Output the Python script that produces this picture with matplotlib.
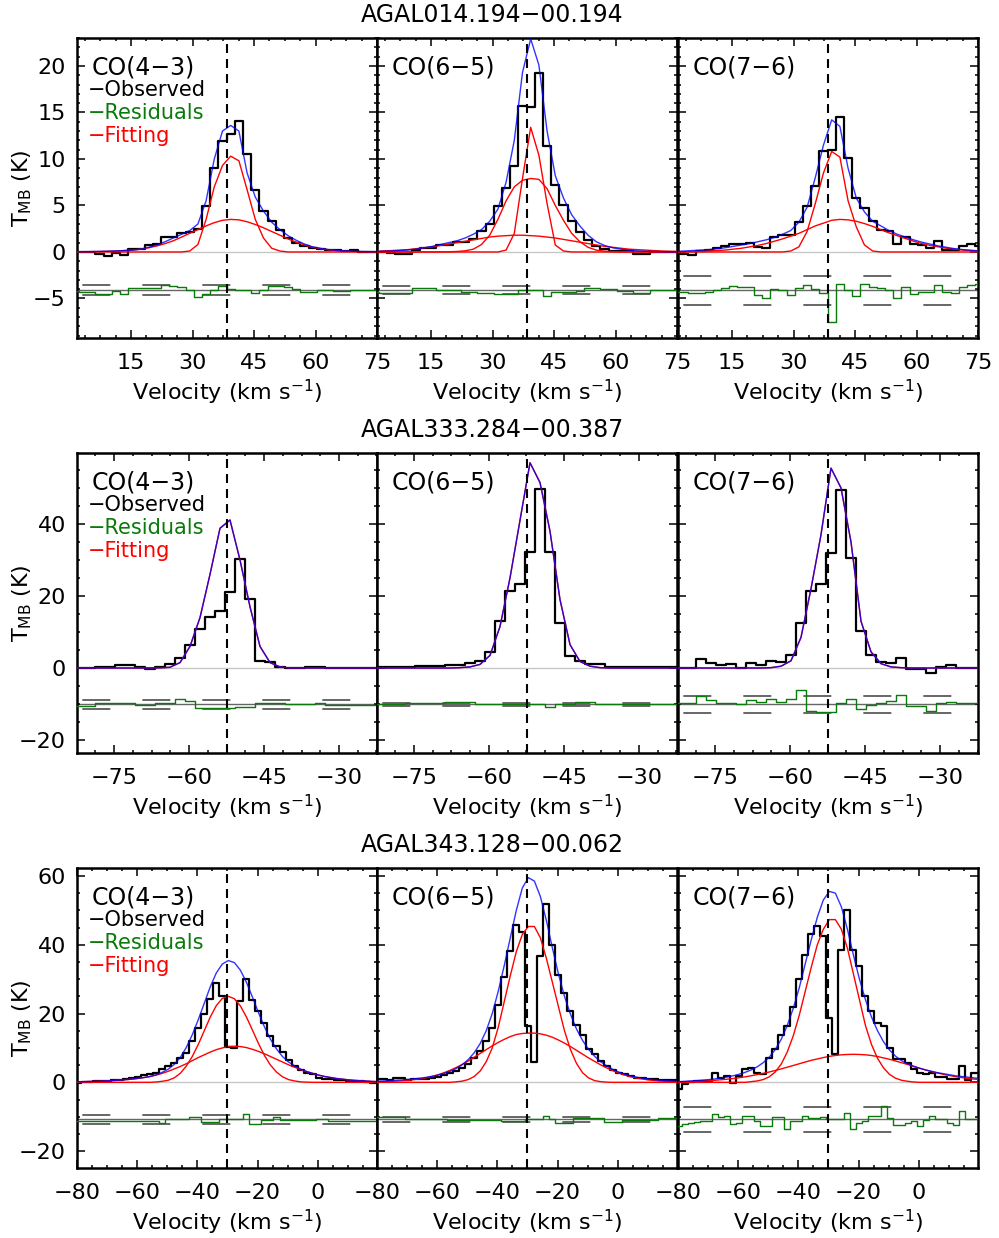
import numpy as np
import matplotlib
matplotlib.use("Agg")
import matplotlib.pyplot as plt
from matplotlib.ticker import MultipleLocator

plt.rcParams['font.family'] = ['DejaVu Sans']
plt.rcParams['mathtext.fontset'] = 'dejavusans'

# ---------------------------------------------------------------- data
SOURCES = ['AGAL014.194\u221200.194', 'AGAL333.284\u221200.387', 'AGAL343.128\u221200.062']
LINES = ['CO(4\u22123)', 'CO(6\u22125)', 'CO(7\u22126)']
CHAN_WIDTH = 2.0                      # km/s
V_FIRST = [1.3, -83.8, -81.7]         # first channel centre, per source
N_CHAN = [38, 32, 52]
V_SYS = [38.5, -52.4, -30.0]          # systemic velocity (dashed line)
RES_OFFSET = [-4.1, -10.1, -10.8]     # residuals are shifted down by this
NOISE = [[0.5, 0.4, 1.55], [1.15, 0.4, 2.3], [1.3, 0.8, 3.6]]

# AGAL014.194-00.194
obs_a14_43 = [0.0, 0.0, 0.0, -0.2, -0.4, -0.1, -0.3, 0.3, 0.3, 0.7, 0.9, 1.6, 1.6, 2.0, 2.15, 2.5,
              4.9, 9.0, 11.9, 12.7, 14.1, 10.5, 6.7, 4.4, 3.3, 2.4, 1.5, 1.0, 0.6, 0.4, 0.3, 0.2,
              0.2, 0.05, 0.2, 0.0, 0.0, 0.0]
fit_a14_43 = [0.02, 0.03, 0.04, 0.06, 0.08, 0.11, 0.15, 0.2, 0.3, 0.5, 0.75, 1.1, 1.5, 1.9, 2.3, 3.0,
              5.5, 10.0, 13.0, 13.6, 13.0, 8.5, 5.9, 4.4, 3.2, 2.4, 1.75, 1.25, 0.85, 0.55, 0.38,
              0.25, 0.17, 0.11, 0.08, 0.05, 0.04, 0.03]
comp_a14_43 = [
    [0, 0, 0, 0, 0, 0, 0, 0, 0, 0, 0, 0, 0, 0, 0.1, 0.8, 3.5, 7.0, 9.3, 10.3, 9.8, 6.7, 3.5, 1.5,
     0.4, 0.1, 0, 0, 0, 0, 0, 0, 0, 0, 0, 0, 0, 0],
    [0.0, 0.02, 0.03, 0.05, 0.07, 0.1, 0.15, 0.2, 0.3, 0.45, 0.65, 0.9, 1.2, 1.6, 2.0, 2.4, 2.8,
     3.15, 3.4, 3.5, 3.45, 3.25, 2.95, 2.6, 2.2, 1.8, 1.4, 1.05, 0.75, 0.5, 0.35, 0.22, 0.14, 0.09,
     0.05, 0.03, 0.02, 0.01]]
res_a14_43 = [-0.1, -0.2, -0.2, -0.4, -0.4, -0.1, -0.4, 0.2, 0.2, 0.2, 0.2, 0.5, 0.45, 0.35, 0.0,
              -0.7, -0.4, 0.0, 0.45, 0.1, 0.0, 0.0, -0.3, 0.0, 0.4, 0.4, 0.3, 0.1, -0.25, -0.25,
              0.0, 0.0, -0.1, -0.1, 0.05, 0.05, 0.05, 0.05]

obs_a14_65 = [0.0, 0.0, -0.1, -0.2, -0.2, 0.2, 0.4, 0.4, 0.75, 0.75, 1.1, 1.1, 1.4, 2.2, 3.0, 4.9,
              6.9, 9.2, 15.7, 15.6, 19.2, 11.4, 7.2, 5.0, 3.3, 2.1, 1.3, 0.6, 0.3, 0.1, 0.1, 0.1,
              -0.2, -0.2, 0.0, 0.0, 0.0, 0.0]
fit_a14_65 = [0.05, 0.08, 0.1, 0.15, 0.2, 0.3, 0.45, 0.6, 0.8, 1.0, 1.2, 1.5, 1.9, 2.4, 3.3, 4.6,
              7.5, 12.0, 19.3, 22.9, 20.1, 13.0, 8.2, 5.8, 4.0, 2.8, 1.8, 1.1, 0.7, 0.45, 0.3, 0.2,
              0.12, 0.08, 0.05, 0.03, 0.02, 0.01]
comp_a14_65 = [
    [0, 0, 0, 0, 0, 0, 0, 0, 0, 0, 0, 0, 0, 0, 0, 0, 0.2, 2.0, 7.9, 13.4, 10.4, 5.2, 0.75, 0.1,
     0, 0, 0, 0, 0, 0, 0, 0, 0, 0, 0, 0, 0, 0],
    [0, 0, 0, 0, 0, 0, 0, 0, 0, 0.02, 0.05, 0.12, 0.3, 0.8, 1.8, 3.5, 5.5, 7.0, 7.7, 7.9, 7.8,
     6.8, 5.0, 3.4, 2.0, 1.1, 0.5, 0.2, 0.08, 0.03, 0, 0, 0, 0, 0, 0, 0, 0],
    [0.05, 0.1, 0.15, 0.2, 0.25, 0.35, 0.45, 0.55, 0.7, 0.85, 1.0, 1.15, 1.3, 1.45, 1.6, 1.7,
     1.75, 1.8, 1.8, 1.75, 1.7, 1.6, 1.5, 1.35, 1.2, 1.05, 0.9, 0.75, 0.6, 0.5, 0.4, 0.3, 0.25,
     0.2, 0.15, 0.1, 0.07, 0.05]]
res_a14_65 = [-0.2, -0.35, -0.35, -0.35, -0.35, 0.2, 0.2, 0.2, 0.0, 0.0, 0.0, -0.2, -0.2, -0.35,
              -0.35, -0.4, -0.4, -0.4, 0.0, 0.0, 0.0, -0.6, -0.25, -0.25, -0.25, -0.1, 0.25, 0.25,
              0.1, 0.1, -0.15, -0.15, -0.35, -0.35, 0.0, 0.0, 0.0, 0.0]

obs_a14_76 = [-0.1, -0.2, -0.3, 0.05, 0.2, 0.4, 0.6, 0.9, 0.9, 1.0, 0.5, 0.4, 1.65, 1.8, 1.8, 3.2,
              4.9, 7.1, 10.9, 11.0, 14.5, 10.1, 5.8, 4.7, 3.3, 2.4, 2.2, 0.9, 1.65, 0.9, 0.75, 0.4,
              1.2, 0.2, 0.2, 0.65, 0.85, 0.6]
fit_a14_76 = [0.05, 0.1, 0.15, 0.2, 0.25, 0.35, 0.45, 0.6, 0.75, 0.9, 1.1, 1.3, 1.55, 1.9, 2.3, 3.2,
              4.8, 8.0, 11.5, 14.2, 13.5, 9.0, 5.8, 4.3, 3.3, 2.8, 2.3, 1.9, 1.6, 1.3, 1.05, 0.85,
              0.65, 0.5, 0.35, 0.25, 0.18, 0.12]
comp_a14_76 = [
    [0, 0, 0, 0, 0, 0, 0, 0, 0, 0, 0, 0, 0, 0, 0.1, 0.55, 2.2, 5.2, 8.5, 10.8, 10.2, 5.5, 2.7, 0.75,
     0.1, 0, 0, 0, 0, 0, 0, 0, 0, 0, 0, 0, 0, 0],
    [0.0, 0.02, 0.04, 0.07, 0.1, 0.15, 0.2, 0.3, 0.4, 0.55, 0.7, 0.9, 1.15, 1.4, 1.7, 2.0, 2.4,
     2.8, 3.1, 3.4, 3.5, 3.45, 3.3, 3.05, 2.75, 2.4, 2.05, 1.75, 1.45, 1.15, 0.9, 0.7, 0.55, 0.4,
     0.3, 0.2, 0.15, 0.1]]
res_a14_76 = [-0.2, -0.2, -0.35, -0.35, -0.2, 0.0, 0.2, 0.45, 0.3, 0.3, -0.5, -0.9, 0.1, 0.0, -0.5,
              0.25, 0.55, 0.1, -0.35, -3.4, 0.65, 0.0, -0.6, 0.7, 0.3, 0.2, 0.0, -0.9, 0.35, -0.45,
              -0.2, -0.2, 0.55, -0.2, -0.35, 0.35, 0.55, 0.7]

# AGAL333.284-00.387 (single-component fits: component equals the total)
obs_a333_43 = [0, 0, 0, 0.4, 0.4, 0.7, 0.7, 0.2, -0.4, 0.3, 1.0, 2.7, 6.5, 10.8, 14.3, 15.8, 21.1,
               30.3, 19.1, 2.0, 1.8, 0.4, 0, 0, 0.4, 0.4, 0, 0, 0, 0, 0, 0]
fit_a333_43 = [0, 0, 0, 0, 0, 0, 0, 0, 0.02, 0.05, 0.2, 1.5, 6.0, 14.0, 26.0, 38.8, 41.1, 30.0,
               17.0, 6.0, 1.5, 0.3, 0, 0, 0, 0, 0, 0, 0, 0, 0, 0]
comp_a333_43 = [fit_a333_43]
res_a333_43 = [-0.4, -0.4, -0.4, 0.3, 0.3, 0.3, 0.3, -0.2, -0.2, 0.5, 0.5, 1.4, 1.0, -1.1, -1.1,
               -1.1, -1.1, -0.6, -0.6, 0.3, 0.3, 0.3, 0.0, 0.0, 0.0, 0.5, -0.1, -0.1, -0.1, -0.1,
               -0.1, -0.1]

obs_a333_65 = [0.2, 0.2, 0.2, 0.3, 0.4, 0.5, 0.5, 0.6, 0.8, 0.8, 1.3, 2.0, 4.5, 13.1, 21.4, 23.3,
               32.3, 49.7, 32.3, 12.4, 3.4, 2.0, 1.1, 1.1, 0.2, 0.2, 0.2, 0.2, 0.2, 0.2, 0.2, 0.2]
fit_a333_65 = [0, 0, 0, 0, 0, 0, 0, 0, 0, 0.1, 0.3, 1.0, 3.5, 11.5, 25.0, 41.0, 57.0, 51.5, 38.0,
               19.0, 6.5, 1.8, 0.5, 0.1, 0, 0, 0, 0, 0, 0, 0, 0]
comp_a333_65 = [fit_a333_65]
res_a333_65 = [0, 0, 0, 0, 0.3, 0.3, 0.3, 0.3, 0.65, 0.65, 0.65, 0, 0, 0, 0, 0, 0, 0, -0.6, 0, 0,
               0.7, 0.7, 0.2, 0.2, 0.2, 0.2, 0.2, 0.2, 0.2, 0, 0]

obs_a333_76 = [0.1, 0.1, 0.1, 2.4, 1.5, 0.8, 1.1, 0.1, 1.3, 0.9, 2.0, 1.8, 3.5, 12.4, 21.4, 23.3,
               31.9, 49.4, 30.5, 10.4, 3.5, 1.8, 1.5, 2.7, -0.4, -0.4, -1.5, 0.4, 0.9, 0.1, 0.1, 0.1]
fit_a333_76 = [0, 0, 0, 0, 0, 0, 0, 0, 0, 0, 0.1, 0.5, 2.0, 8.5, 22.0, 37.0, 55.5, 50.0, 35.0,
               13.0, 4.5, 1.2, 0.3, 0.1, 0, 0, 0, 0, 0, 0, 0, 0]
comp_a333_76 = [fit_a333_76]
res_a333_76 = [0.3, 0.3, 0.3, 2.3, 1.2, 0.5, 0.5, 0.0, 1.2, 0.7, 1.6, 0.7, 1.4, 3.9, -1.8, -2.2,
               -2.2, 0.3, 1.4, -1.4, -0.2, 0.3, 0.9, 2.6, -0.4, -0.4, -1.7, 0.3, 0.7, 0.3, 0.3, 0.3]

# AGAL343.128-00.062
obs_a343_43 = [-0.3, -0.3, 0.1, 0.2, 0.3, 0.4, 0.5, 0.6, 0.75, 0.9, 1.15, 1.5, 2.0, 2.3, 2.8, 3.8,
               4.7, 5.7, 7.1, 8.6, 12.0, 15.8, 19.9, 24.1, 28.9, 25.0, 10.2, 9.9, 23.5, 30.0, 24.0,
               20.7, 17.3, 13.4, 10.5, 8.8, 6.4, 4.7, 3.5, 2.8, 2.3, 1.35, 0.9, 0.9, 0.7, 0.7, 0.4,
               0.4, 0.4, 0.2, -0.3, -0.3]
fit_a343_43 = [0.1, 0.15, 0.2, 0.25, 0.3, 0.35, 0.45, 0.55, 0.65, 0.8, 0.95, 1.15, 1.4, 1.7, 2.2,
               2.9, 3.8, 5.2, 7.2, 10.1, 13.8, 18.2, 23.0, 27.8, 31.8, 34.4, 35.4, 34.8, 32.6, 29.1,
               24.8, 20.3, 16.1, 12.5, 9.7, 7.5, 5.9, 4.8, 3.85, 3.15, 2.6, 2.1, 1.7, 1.4, 1.1, 0.9,
               0.7, 0.55, 0.45, 0.35, 0.25, 0.2]
comp_a343_43 = [
    [0, 0, 0, 0, 0, 0, 0, 0, 0, 0, 0, 0, 0, 0, 0.1, 0.3, 0.6, 1.3, 2.6, 4.7, 7.5, 11.0, 15.0, 19.0,
     22.3, 24.4, 25.0, 24.3, 22.2, 19.0, 15.2, 11.3, 7.8, 5.0, 3.0, 1.6, 0.8, 0.4, 0.15, 0.05,
     0, 0, 0, 0, 0, 0, 0, 0, 0, 0, 0, 0],
    [0.1, 0.15, 0.2, 0.25, 0.3, 0.35, 0.45, 0.55, 0.65, 0.8, 0.95, 1.15, 1.4, 1.7, 2.1, 2.6, 3.2,
     3.9, 4.6, 5.4, 6.3, 7.2, 8.0, 8.8, 9.5, 10.0, 10.4, 10.5, 10.4, 10.1, 9.6, 9.0, 8.3, 7.5,
     6.7, 5.9, 5.1, 4.4, 3.7, 3.1, 2.6, 2.1, 1.7, 1.4, 1.1, 0.9, 0.7, 0.55, 0.45, 0.35, 0.25, 0.2]]
res_a343_43 = [-0.4, -0.4, -0.3, -0.3, -0.3, -0.3, -0.3, -0.3, -0.3, -0.3, -0.3, -0.3, -0.3, -0.3,
               -0.3, -1.0, 0.0, 0.0, 0.0, 0.0, 0.7, 0.7, -0.8, -0.8, -0.8, 0.0, 0.0, 0.0, 0.0, 1.6,
               -1.4, -1.4, -0.2, -0.2, 0.7, -0.2, -0.2, -0.2, -0.2, -0.2, -0.2, 0.1, 0.1, -0.4,
               -0.4, -0.4, -0.4, -0.4, -0.4, -0.4, -0.4, -0.4]

obs_a343_65 = [0.9, 0.9, 0.9, 0.7, 1.2, 1.2, 0.8, 0.9, 0.9, 1.0, 1.2, 1.5, 2.0, 2.6, 3.3, 4.3, 5.2,
               7.0, 9.1, 12.0, 15.8, 22.6, 30.6, 38.1, 45.8, 43.6, 16.3, 5.9, 36.6, 51.9, 40.0,
               31.3, 26.0, 20.7, 16.8, 13.9, 9.6, 8.1, 6.2, 4.7, 3.6, 2.8, 2.3, 1.8, 1.35, 1.35,
               0.9, 0.9, 0.7, 0.7, 0.7, 0.5]
fit_a343_65 = [0.3, 0.35, 0.4, 0.5, 0.6, 0.7, 0.85, 1.0, 1.2, 1.45, 1.75, 2.1, 2.6, 3.2, 4.0, 5.1,
               6.6, 8.6, 11.3, 15.0, 20.0, 26.5, 34.0, 42.0, 50.0, 56.5, 59.5, 58.5, 54.0, 47.0,
               39.0, 31.5, 25.0, 19.8, 15.5, 12.2, 9.6, 7.6, 6.0, 4.8, 3.8, 3.0, 2.4, 1.9, 1.5,
               1.2, 0.95, 0.75, 0.6, 0.5, 0.4, 0.3]
comp_a343_65 = [
    [0, 0, 0, 0, 0, 0, 0, 0, 0, 0, 0, 0, 0, 0, 0.15, 0.35, 0.8, 1.7, 3.3, 6.0, 10.0, 16.0, 23.5,
     31.0, 38.0, 43.0, 45.3, 45.3, 42.0, 36.0, 29.0, 22.0, 15.0, 9.5, 5.5, 2.8, 1.3, 0.5, 0.2,
     0.05, 0, 0, 0, 0, 0, 0, 0, 0, 0, 0, 0, 0],
    [0.1, 0.15, 0.2, 0.25, 0.35, 0.45, 0.6, 0.8, 1.0, 1.3, 1.7, 2.2, 2.8, 3.5, 4.3, 5.2, 6.2, 7.3,
     8.4, 9.5, 10.6, 11.6, 12.5, 13.3, 13.9, 14.2, 14.3, 14.3, 14.1, 13.7, 13.1, 12.3, 11.4, 10.4,
     9.3, 8.2, 7.1, 6.1, 5.1, 4.2, 3.4, 2.7, 2.1, 1.6, 1.25, 0.95, 0.7, 0.5, 0.37, 0.27, 0.2,
     0.15]]
res_a343_65 = [0.6, 0.6, 0.6, 0.6, 0.6, 0.6, 0.2, 0.2, 0.2, 0.2, 0.2, 0.2, 0.2, -0.2, -0.2, -0.2,
               -0.2, -0.2, -0.2, -0.2, -0.2, -0.2, -0.4, -0.4, -0.4, -0.4, 0.0, 0.0, 0.0, 1.1, 0.0,
               -0.9, -0.9, -0.9, 0.4, 0.4, 0.4, 0.4, 0.4, -0.7, -0.7, -0.7, -0.2, -0.2, -0.2, -0.2,
               -0.2, -0.2, 0.5, 0.5, 0.5, 0.5]

obs_a343_76 = [-1.5, -2.0, -0.5, 0.2, 0.3, 0.3, 0.5, 2.8, 1.35, 1.8, -0.3, 1.8, 3.8, 4.3, 2.8, 2.3,
               7.1, 9.6, 13.9, 16.3, 22.0, 30.0, 37.0, 43.0, 45.3, 42.4, 18.7, 8.3, 38.6, 50.1,
               38.6, 33.7, 25.0, 20.7, 17.3, 16.3, 10.0, 6.7, 6.7, 5.5, 3.8, 2.8, 2.3, 2.8, 1.6,
               1.6, 1.0, 1.0, 4.7, 0.8, 2.8, 2.8]
fit_a343_76 = [0.1, 0.2, 0.3, 0.4, 0.5, 0.65, 0.8, 1.0, 1.25, 1.55, 1.9, 2.35, 2.9, 3.6, 4.5, 5.7,
               7.3, 9.5, 12.5, 16.5, 21.5, 27.5, 34.5, 41.5, 48.0, 53.0, 55.5, 55.0, 51.0, 44.5,
               37.0, 30.0, 24.0, 19.0, 15.0, 11.8, 9.4, 7.6, 6.3, 5.4, 4.7, 4.1, 3.6, 3.2, 2.8, 2.5,
               2.2, 1.9, 1.7, 1.5, 1.3, 1.1]
comp_a343_76 = [
    [0, 0, 0, 0, 0, 0, 0, 0, 0, 0, 0, 0, 0, 0.2, 0.4, 0.8, 1.6, 3.0, 5.3, 8.8, 13.5, 19.5, 26.5,
     33.5, 40.0, 44.5, 47.3, 47.3, 44.5, 39.0, 31.5, 24.0, 16.5, 11.0, 7.0, 4.2, 2.3, 1.2, 0.6,
     0.3, 0.1, 0, 0, 0, 0, 0, 0, 0, 0, 0, 0, 0],
    [0.1, 0.15, 0.2, 0.25, 0.3, 0.4, 0.5, 0.6, 0.75, 0.9, 1.1, 1.35, 1.6, 1.9, 2.25, 2.6, 3.0,
     3.45, 3.9, 4.4, 4.9, 5.4, 5.9, 6.4, 6.8, 7.2, 7.55, 7.8, 8.0, 8.1, 8.15, 8.1, 8.0, 7.8, 7.5,
     7.1, 6.7, 6.2, 5.7, 5.2, 4.6, 4.1, 3.6, 3.1, 2.7, 2.3, 1.95, 1.65, 1.4, 1.15, 0.95, 0.8]]
res_a343_76 = [-2.4, -1.8, -1.3, -1.0, -0.7, -0.5, -0.4, 1.6, 0.8, 0.9, -1.2, -0.9, 1.15, 1.15,
               -0.3, -1.9, -1.9, 0.7, 0.7, -2.7, -0.5, -0.5, 1.0, 0.5, 0.5, 0.8, 0.0, 0.0, 0.0,
               1.75, -2.9, -1.0, -0.5, 1.0, 1.0, 3.9, 0.5, -1.5, -1.5, -1.0, -0.5, -1.9, -0.2,
               1.15, 0.0, 0.0, -1.0, -1.5, 2.4, 0.0, 0.0, 0.5]

OBS = [[obs_a14_43, obs_a14_65, obs_a14_76],
       [obs_a333_43, obs_a333_65, obs_a333_76],
       [obs_a343_43, obs_a343_65, obs_a343_76]]
FIT = [[fit_a14_43, fit_a14_65, fit_a14_76],
       [fit_a333_43, fit_a333_65, fit_a333_76],
       [fit_a343_43, fit_a343_65, fit_a343_76]]
COMP = [[comp_a14_43, comp_a14_65, comp_a14_76],
        [comp_a333_43, comp_a333_65, comp_a333_76],
        [comp_a343_43, comp_a343_65, comp_a343_76]]
RES = [[res_a14_43, res_a14_65, res_a14_76],
       [res_a333_43, res_a333_65, res_a333_76],
       [res_a343_43, res_a343_65, res_a343_76]]

# ---------------------------------------------------------------- axes setup
XLIM = [(1.8, 75.0), (-82.4, -22.4), (-80.0, 19.7)]
YLIM = [(-9.25, 23.0), (-23.6, 59.7), (-24.9, 62.3)]
XMAJ, XMIN = [15, 15, 20], [3.75, 3.75, 5]
YMAJ, YMIN = [5, 20, 20], [1, 5, 5]

W, H = 999, 1238
COL_X = [77, 377, 678]
ROW_TOP = [38, 453, 868]
PW, PH = 300, 300
TITLE_Y = [15, 430, 845]
FS = 16

fig = plt.figure(figsize=(W / 100, H / 100), dpi=100)

for r in range(3):
    v = V_FIRST[r] + CHAN_WIDTH * np.arange(N_CHAN[r])
    base = RES_OFFSET[r]
    for c in range(3):
        ax = fig.add_axes([COL_X[c] / W, 1 - (ROW_TOP[r] + PH) / H, PW / W, PH / H])

        ax.axhline(0, color='0.78', lw=1.0, zorder=1)
        ax.axhline(base, color='0.4', lw=1.0, zorder=1)
        for s in (1, -1):
            ax.axhline(base + s * NOISE[r][c], color='0.3', lw=1.2, zorder=2,
                       linestyle=(32.8, (16.8, 19.2)))

        ax.step(v, np.array(RES[r][c]) + base, where='mid', color='#0a7a0a', lw=1.0, zorder=3)
        ax.step(v, OBS[r][c], where='mid', color='k', lw=1.6, zorder=4)
        for comp in COMP[r][c]:
            ax.plot(v, comp, color='red', lw=1.0, zorder=5)
        ax.plot(v, FIT[r][c], color='blue', lw=1.0, alpha=0.8, zorder=6)
        ax.axvline(V_SYS[r], color='k', lw=1.5, linestyle=(0, (4.3, 2.9)), zorder=7)

        ax.set_xlim(*XLIM[r])
        ax.set_ylim(*YLIM[r])
        ax.xaxis.set_major_locator(MultipleLocator(XMAJ[r]))
        ax.xaxis.set_minor_locator(MultipleLocator(XMIN[r]))
        ax.yaxis.set_major_locator(MultipleLocator(YMAJ[r]))
        ax.yaxis.set_minor_locator(MultipleLocator(YMIN[r]))
        ax.tick_params(which='both', direction='in', top=True, right=True, width=1.1,
                       labelsize=FS)
        ax.tick_params(which='major', length=5.5, pad=8)
        ax.tick_params(axis='x', which='major', pad=11)
        ax.tick_params(which='minor', length=2.5)
        for sp in ax.spines.values():
            sp.set_linewidth(1.8)

        ax.set_xlabel('Velocity (km s$^{-1}$)', fontsize=FS, labelpad=3)
        if c == 0:
            ax.set_ylabel('T$_{\\rm MB}$ (K)', fontsize=FS)
            ax.yaxis.set_label_coords(-0.145, 0.5)
            ax.text(0.035, 0.827, '\u2212Observed', color='k', fontsize=FS - 1,
                    transform=ax.transAxes, va='center')
            ax.text(0.035, 0.750, '\u2212Residuals', color='#0a7a0a', fontsize=FS - 1,
                    transform=ax.transAxes, va='center')
            ax.text(0.035, 0.673, '\u2212Fitting', color='red', fontsize=FS - 1,
                    transform=ax.transAxes, va='center')
        else:
            ax.tick_params(labelleft=False)
        ax.text(0.05, 0.9, LINES[c], fontsize=FS + 1, transform=ax.transAxes, va='center')

    fig.text(492 / W, 1 - TITLE_Y[r] / H, SOURCES[r], fontsize=FS + 1, ha='center', va='center')

fig.savefig('out.png', dpi=100)
